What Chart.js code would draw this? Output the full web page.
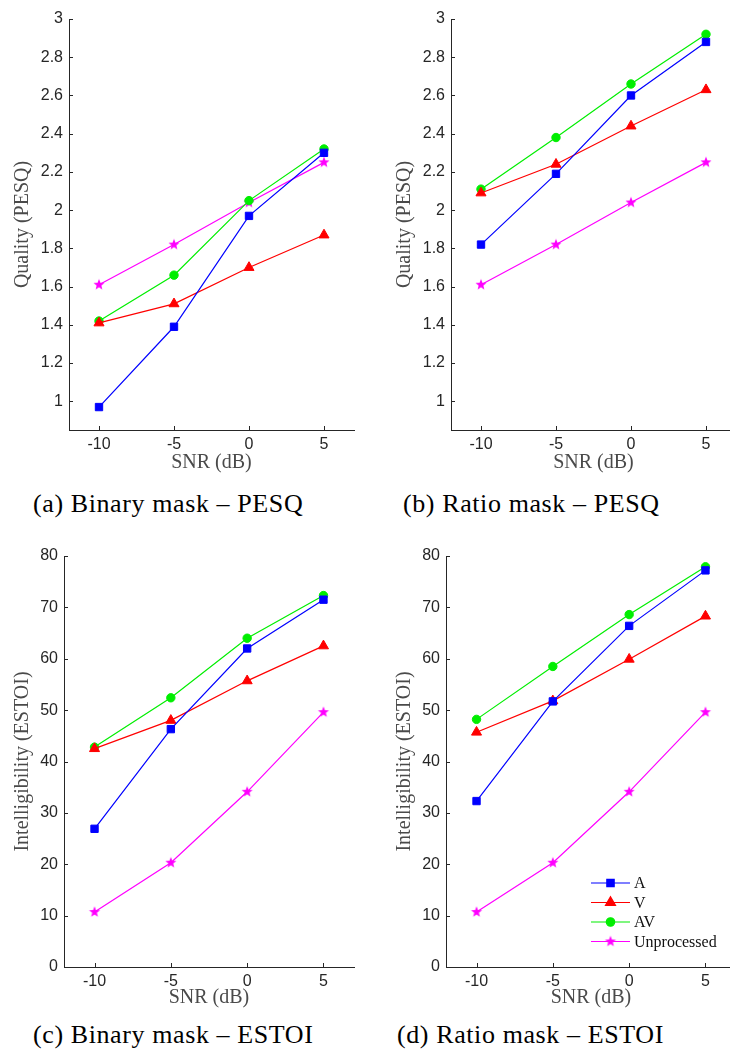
<!DOCTYPE html>
<html lang="en">
<head>
  <meta charset="UTF-8" />
  <title>Binary / Ratio mask - PESQ and ESTOI</title>
  <script src="https://cdn.jsdelivr.net/npm/chart.js"></script>
  <style>
    html, body { margin: 0; padding: 0; background: #fff; overflow: hidden; }
    body { width: 730px; height: 1055px; position: relative; }
    canvas { position: absolute; }
    .caption {
      position: absolute;
      font-family: "Liberation Serif", serif;
      font-size: 26px;
      line-height: 26px;
      letter-spacing: 0.6px;
      color: #000;
      white-space: nowrap;
    }
  </style>
</head>
<body>
  <canvas id="chartA" width="365" height="480" style="left:0;top:0"></canvas>
  <canvas id="chartB" width="382" height="480" style="left:365px;top:0"></canvas>
  <canvas id="chartC" width="365" height="500" style="left:0;top:520px"></canvas>
  <canvas id="chartD" width="382" height="500" style="left:365px;top:520px"></canvas>

  <div class="caption" style="left:33px;top:491px">(a) Binary mask – PESQ</div>
  <div class="caption" style="left:403px;top:491px">(b) Ratio mask – PESQ</div>
  <div class="caption" style="left:33px;top:1022px">(c) Binary mask – ESTOI</div>
  <div class="caption" style="left:397px;top:1022px">(d) Ratio mask – ESTOI</div>

  <script>
    // data
    const snr = [-10, -5, 0, 5];
    const xTicks = [-10, -5, 0, 5];
    const pesqTicks = [1, 1.2, 1.4, 1.6, 1.8, 2, 2.2, 2.4, 2.6, 2.8, 3];
    const estoiTicks = [0, 10, 20, 30, 40, 50, 60, 70, 80];
    const seriesNames = ['A', 'V', 'AV', 'Unprocessed'];

    const binPesqA   = [0.97, 1.39, 1.97, 2.30];
    const binPesqV   = [1.41, 1.51, 1.70, 1.87];
    const binPesqAV  = [1.42, 1.66, 2.05, 2.32];
    const binPesqUnp = [1.61, 1.82, 2.04, 2.25];

    const ratPesqA   = [1.82, 2.19, 2.60, 2.88];
    const ratPesqV   = [2.09, 2.24, 2.44, 2.63];
    const ratPesqAV  = [2.11, 2.38, 2.66, 2.92];
    const ratPesqUnp = [1.61, 1.82, 2.04, 2.25];

    const binEstoiA   = [26.9, 46.3, 62.0, 71.5];
    const binEstoiV   = [42.5, 48.0, 55.7, 62.5];
    const binEstoiAV  = [42.8, 52.4, 64.0, 72.3];
    const binEstoiUnp = [10.7, 20.3, 34.1, 49.6];

    const ratEstoiA   = [32.3, 51.7, 66.4, 77.2];
    const ratEstoiV   = [45.7, 51.8, 59.9, 68.3];
    const ratEstoiAV  = [48.2, 58.5, 68.6, 77.9];
    const ratEstoiUnp = [10.7, 20.3, 34.1, 49.6];

    const axisColor = '#262626';
    const titleColor = '#4a4a4a';

    // filled pentagram, like matlab's 'p' marker
    function makeStar(color, R) {
      const c = document.createElement('canvas');
      const s = Math.ceil(R * 2 + 2);
      c.width = s; c.height = s;
      const g = c.getContext('2d');
      g.beginPath();
      for (let i = 0; i < 10; i++) {
        const r = i % 2 === 0 ? R : R * 0.42;
        const a = -Math.PI / 2 + i * Math.PI / 5;
        const px = s / 2 + r * Math.cos(a), py = s / 2 + r * Math.sin(a);
        if (i === 0) g.moveTo(px, py); else g.lineTo(px, py);
      }
      g.closePath();
      g.fillStyle = color;
      g.fill();
      return c;
    }
    const star = makeStar('#ff00ff', 5.8);

    const styles = [
      { color: '#0000ff', pointStyle: 'rect', radius: 5.2 },
      { color: '#ff0000', pointStyle: 'triangle', radius: 5.8 },
      { color: '#00ee00', pointStyle: 'circle', radius: 4.2 },
      { color: '#ff00ff', pointStyle: star, radius: 5.8 }
    ];

    // matlab-style tick marks pointing into the plot
    const inwardTicks = {
      id: 'inwardTicks',
      beforeDatasetsDraw(chart) {
        const { ctx, chartArea: a, scales: { x, y } } = chart;
        ctx.save();
        ctx.strokeStyle = axisColor;
        ctx.lineWidth = 1;
        ctx.beginPath();
        x.ticks.forEach(t => {
          const px = Math.round(x.getPixelForValue(t.value)) + 0.5;
          ctx.moveTo(px, a.bottom);
          ctx.lineTo(px, a.bottom - 4);
        });
        y.ticks.forEach(t => {
          const py = Math.round(y.getPixelForValue(t.value)) + 0.5;
          ctx.moveTo(a.left, py);
          ctx.lineTo(a.left + 4, py);
        });
        ctx.stroke();
        ctx.restore();
      }
    };

    // legend drawn inside the plot area (only panel d has it)
    const innerLegend = {
      id: 'innerLegend',
      afterDraw(chart) {
        if (!chart.options.plugins.innerLegend.show) return;
        const { ctx, chartArea: a } = chart;
        const x0 = a.left + 145, x1 = a.left + 184, xm = (x0 + x1) / 2;
        ctx.save();
        seriesNames.forEach((name, i) => {
          const st = styles[i];
          const yy = a.bottom - 84 + i * 19.5;
          ctx.strokeStyle = st.color;
          ctx.fillStyle = st.color;
          ctx.lineWidth = 1.2;
          ctx.beginPath();
          ctx.moveTo(x0, yy); ctx.lineTo(x1, yy);
          ctx.stroke();
          Chart.helpers.drawPoint(ctx, { pointStyle: st.pointStyle, radius: st.radius, rotation: 0, borderWidth: 1 }, xm, yy);
          ctx.fillStyle = '#111';
          ctx.font = '16px "Liberation Serif"';
          ctx.textBaseline = 'middle';
          ctx.fillText(name, x1 + 4, yy + 1);
        });
        ctx.restore();
      }
    };

    function makeChart(id, values, yTitle, yTicks, yMin, yMax, lay, showLegend) {
      const ctx = document.getElementById(id).getContext('2d');
      return new Chart(ctx, {
        type: 'line',
        data: {
          datasets: values.map((vals, i) => ({
            label: seriesNames[i],
            data: snr.map((s, j) => ({ x: s, y: vals[j] })),
            borderColor: styles[i].color,
            backgroundColor: styles[i].color,
            borderWidth: 1.2,
            pointStyle: styles[i].pointStyle,
            pointRadius: styles[i].radius,
            pointBorderWidth: 1,
            pointHoverRadius: styles[i].radius,
            tension: 0,
            clip: false
          }))
        },
        options: {
          responsive: false,
          animation: false,
          events: [],
          layout: { padding: { top: lay.padTop, right: lay.padRight, left: 0, bottom: 0 } },
          plugins: {
            legend: { display: false },
            tooltip: { enabled: false },
            innerLegend: { show: showLegend }
          },
          scales: {
            x: {
              type: 'linear',
              min: -12,
              max: 7,
              afterBuildTicks: s => { s.ticks = xTicks.map(v => ({ value: v })); },
              afterFit: s => { s.height = lay.xH; },
              grid: { display: true, drawOnChartArea: false, drawTicks: false },
              border: { display: true, color: axisColor, width: 1 },
              ticks: {
                color: axisColor,
                padding: 5,
                maxRotation: 0,
                font: { family: '"Liberation Sans"', size: 16 },
                callback: v => String(v)
              },
              title: {
                display: true,
                text: 'SNR (dB)',
                color: titleColor,
                font: { family: '"Liberation Serif"', size: 20 },
                padding: { top: 0, bottom: lay.xTitlePad }
              }
            },
            y: {
              type: 'linear',
              min: yMin,
              max: yMax,
              afterBuildTicks: s => { s.ticks = yTicks.map(v => ({ value: v })); },
              afterFit: s => { s.width = lay.yW; },
              grid: { display: true, drawOnChartArea: false, drawTicks: false },
              border: { display: true, color: axisColor, width: 1 },
              ticks: {
                color: axisColor,
                padding: 6,
                font: { family: '"Liberation Sans"', size: 16 },
                callback: v => String(Number(v.toFixed(1)))
              },
              title: {
                display: true,
                text: yTitle,
                color: titleColor,
                font: { family: '"Liberation Serif"', size: 20 },
                padding: { top: lay.yTitlePad, bottom: 0 }
              }
            }
          }
        },
        plugins: [inwardTicks, innerLegend]
      });
    }

    makeChart('chartA', [binPesqA, binPesqV, binPesqAV, binPesqUnp], 'Quality (PESQ)', pesqTicks, 0.85, 3,
      { padTop: 19, padRight: 11, yW: 69, xH: 50, yTitlePad: 11, xTitlePad: 5 }, false);
    makeChart('chartB', [ratPesqA, ratPesqV, ratPesqAV, ratPesqUnp], 'Quality (PESQ)', pesqTicks, 0.85, 3,
      { padTop: 19, padRight: 11, yW: 86, xH: 50, yTitlePad: 28, xTitlePad: 5 }, false);
    makeChart('chartC', [binEstoiA, binEstoiV, binEstoiAV, binEstoiUnp], 'Intelligibility (ESTOI)', estoiTicks, 0, 80,
      { padTop: 36, padRight: 11, yW: 64, xH: 53, yTitlePad: 11, xTitlePad: 10 }, false);
    makeChart('chartD', [ratEstoiA, ratEstoiV, ratEstoiAV, ratEstoiUnp], 'Intelligibility (ESTOI)', estoiTicks, 0, 80,
      { padTop: 36, padRight: 11, yW: 81, xH: 53, yTitlePad: 28, xTitlePad: 10 }, true);
  </script>
</body>
</html>
